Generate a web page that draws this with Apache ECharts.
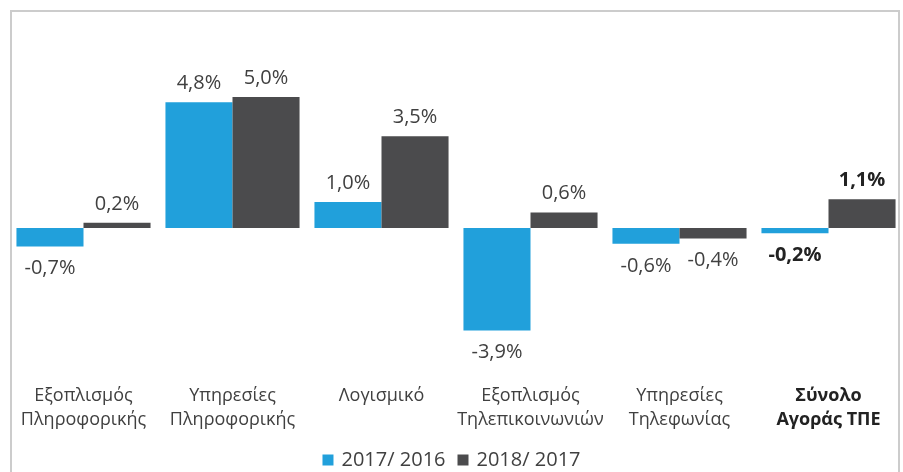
<!DOCTYPE html>
<html>
<head>
<meta charset="utf-8">
<script src="https://cdn.jsdelivr.net/npm/echarts@6/dist/echarts.min.js"></script>
<style>
html, body { margin: 0; padding: 0; background: #fff; }
#chart { width: 903px; height: 472px; }
</style>
</head>
<body>
<div id="chart"></div>
<script>
var categories = [
    'Εξοπλισμός\nΠληροφορικής',
    'Υπηρεσίες\nΠληροφορικής',
    'Λογισμικό',
    'Εξοπλισμός\nΤηλεπικοινωνιών',
    'Υπηρεσίες\nΤηλεφωνίας',
    'Σύνολο\nΑγοράς ΤΠΕ'
];
var seriesNames = ['2017/ 2016', '2018/ 2017'];
var values2017 = [-0.7, 4.8, 1.0, -3.9, -0.6, -0.2];
var values2018 = [0.2, 5.0, 3.5, 0.6, -0.4, 1.1];

var myChart = echarts.init(document.getElementById('chart'));

// το τελευταίο (σύνολο) με έντονα
function toItems(arr) {
    return arr.map(function (v, i) {
        var last = i === arr.length - 1;
        return {
            value: v,
            label: {
                position: v < 0 ? 'bottom' : 'top',
                distance: v < 0 ? 12 : 9,
                fontWeight: last ? 'bold' : 'normal',
                color: last ? '#222' : '#404040'
            }
        };
    });
}

var catData = categories.map(function (c, i) {
    var last = i === categories.length - 1;
    return {
        value: c,
        textStyle: {
            fontWeight: last ? 'bold' : 'normal',
            color: last ? '#222' : '#404040'
        }
    };
});

function fmt(p) {
    return p.value.toFixed(1).replace('.', ',') + '%';
}

var option = {
    backgroundColor: '#fff',
    textStyle: { fontFamily: 'Open Sans' },
    graphic: [{
        type: 'rect',
        shape: { x: 11, y: 11, width: 888, height: 480 },
        style: { fill: 'none', stroke: '#cccccc', lineWidth: 2 },
        silent: true
    }],
    legend: {
        data: seriesNames,
        top: 450,
        left: 'center',
        padding: [0, 5],
        itemWidth: 11,
        itemHeight: 11,
        itemGap: 12,
        icon: 'rect',
        textStyle: { fontSize: 20, color: '#404040', fontFamily: 'Open Sans', padding: [0, 0, 0, 3] }
    },
    grid: {
        left: 9,
        top: 97,
        width: 898,
        height: 236
    },
    xAxis: {
        type: 'category',
        data: catData,
        axisLine: { show: false },
        axisTick: { show: false },
        axisLabel: {
            interval: 0,
            margin: 51,
            fontSize: 18,
            lineHeight: 24,
            color: '#404040',
            fontFamily: 'Open Sans'
        }
    },
    yAxis: {
        type: 'value',
        min: -4,
        max: 5,
        show: false,
        splitLine: { show: false }
    },
    series: [
        {
            name: seriesNames[0],
            type: 'bar',
            data: toItems(values2017),
            barGap: 0,
            barCategoryGap: '10%',
            itemStyle: { color: '#21a0db' },
            label: { show: true, fontSize: 20, formatter: fmt, fontFamily: 'Open Sans' }
        },
        {
            name: seriesNames[1],
            type: 'bar',
            data: toItems(values2018),
            barGap: 0,
            barCategoryGap: '10%',
            itemStyle: { color: '#4b4b4d' },
            label: { show: true, fontSize: 20, formatter: fmt, fontFamily: 'Open Sans' }
        }
    ]
};

myChart.setOption(option);
</script>
</body>
</html>
